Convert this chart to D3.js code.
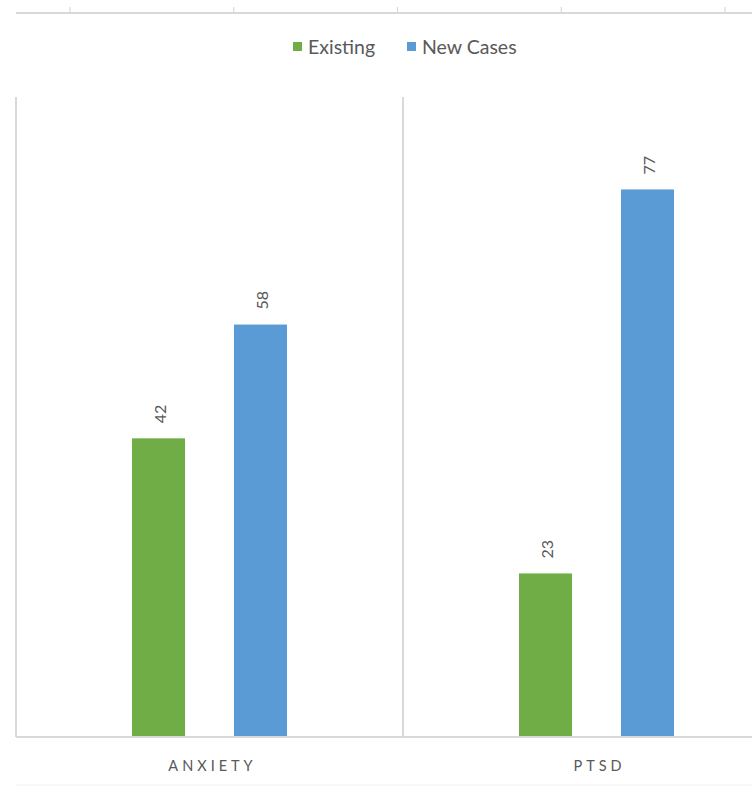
<!DOCTYPE html>
<html><head><meta charset="utf-8">
<script src="https://cdn.jsdelivr.net/npm/d3@7"></script>
<style>html,body{margin:0;padding:0;background:#fff;} svg{display:block;}</style>
</head><body>
<svg id="chart" width="752" height="787"></svg>
<script>
const categories = ["ANXIETY", "PTSD"];
const seriesNames = ["Existing", "New Cases"];
const existing = [42, 23];
const newCases = [58, 77];
const topTicks = [0, 1, 2, 3, 4];
const colors = ["#70AD47", "#5B9BD5"];

const svg = d3.select("#chart");
const font = "Lato, 'Open Sans', sans-serif";

// faint top axis from an adjacent chart
const xt = d3.scaleLinear().domain([0, 4]).range([70, 725]);
svg.append("line").attr("x1", 16).attr("x2", 752).attr("y1", 13).attr("y2", 13)
  .attr("stroke", "#d9d9d9").attr("stroke-width", 2);
svg.selectAll(".tt").data(topTicks).enter().append("line")
  .attr("x1", d => xt(d)).attr("x2", d => xt(d)).attr("y1", 7).attr("y2", 13)
  .attr("stroke", "#d9d9d9").attr("stroke-width", 1.2);

// scales
const x = d3.scaleBand().domain(categories).range([16, 790]).padding(0);
const x1 = d3.scaleBand().domain(seriesNames).range([116, x.bandwidth() - 116]).paddingInner(0.48);
const y = d3.scaleLinear().domain([0, 90]).range([737, 97]);

// separators
svg.selectAll(".sep").data(categories).enter().append("line")
  .attr("x1", d => x(d)).attr("x2", d => x(d)).attr("y1", y(90)).attr("y2", y(0))
  .attr("stroke", "#d9d9d9").attr("stroke-width", 2);

// bars
const rows = categories.map((c, i) => ({cat: c, vals: [existing[i], newCases[i]]}));
const g = svg.selectAll(".grp").data(rows).enter().append("g")
  .attr("transform", d => `translate(${x(d.cat)},0)`);
g.selectAll("rect").data(d => d.vals.map((v, j) => ({v, s: seriesNames[j], j}))).enter().append("rect")
  .attr("x", d => x1(d.s)).attr("width", x1.bandwidth())
  .attr("y", d => y(d.v)).attr("height", d => y(0) - y(d.v))
  .attr("fill", d => colors[d.j]);
g.selectAll("text.val").data(d => d.vals.map((v, j) => ({v, s: seriesNames[j], j}))).enter().append("text")
  .attr("class", "val")
  .attr("transform", d => `translate(${x1(d.s) + x1.bandwidth() / 2 + 3},${y(d.v) - 15}) rotate(-90)`)
  .attr("text-anchor", "start").attr("dominant-baseline", "middle")
  .attr("font-family", font).attr("font-size", 16).attr("fill", "#595959")
  .text(d => d.v);

// baseline axis
svg.append("line").attr("x1", 16).attr("x2", 752).attr("y1", y(0)).attr("y2", y(0))
  .attr("stroke", "#d9d9d9").attr("stroke-width", 2);
svg.append("line").attr("x1", 16).attr("x2", 752).attr("y1", 785).attr("y2", 785)
  .attr("stroke", "#f0f0f0").attr("stroke-width", 1);

// category labels
svg.selectAll(".cat").data(categories).enter().append("text")
  .attr("x", d => x(d) + x.bandwidth() / 2 + 3).attr("y", 771)
  .attr("text-anchor", "middle").attr("font-family", font).attr("font-size", 14.5)
  .attr("letter-spacing", "4px").attr("fill", "#595959")
  .text(d => d);

// legend
const legendX = [293, 407];
const lg = svg.selectAll(".lg").data(seriesNames).enter().append("g")
  .attr("transform", (d, i) => `translate(${legendX[i]},42)`);
lg.append("rect").attr("width", 9).attr("height", 9).attr("fill", (d, i) => colors[i]);
lg.append("text").attr("x", 15).attr("y", 12).attr("font-family", font).attr("font-size", 19.5)
  .attr("fill", "#595959").text(d => d);
</script>
</body></html>
